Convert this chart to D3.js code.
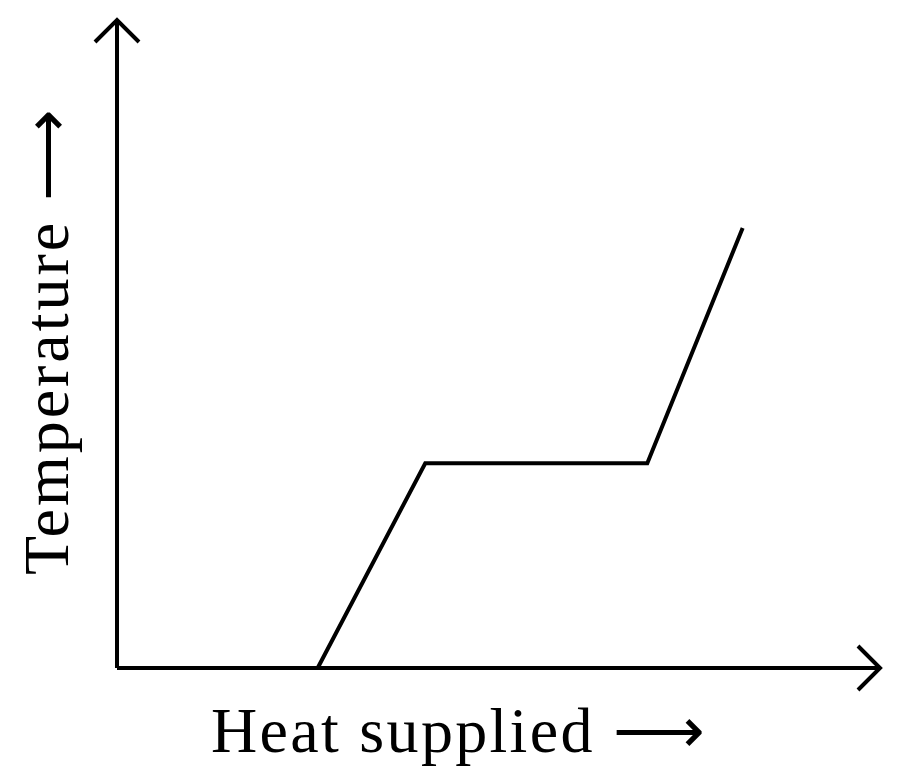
<!DOCTYPE html>
<html><head><meta charset="utf-8">
<script src="https://cdn.jsdelivr.net/npm/d3@7"></script>
<style>body{margin:0;background:#fff}</style>
</head><body>
<script>
// heat supplied vs temperature (arbitrary units)
var heat = [26.3, 40.4, 69.5, 82.0]
var temp = [0, 31.6, 31.6, 67.9]
var xLabel = "Heat supplied \u27F6"
var yLabel = "Temperature \u27F6"

var W = 900, H = 784
var svg = d3.select("body").append("svg").attr("width", W).attr("height", H)

var x = d3.scaleLinear().domain([0, 100]).range([117, 880])
var y = d3.scaleLinear().domain([0, 100]).range([668, 20])

var stroke = {stroke: "#000", "stroke-width": 4, fill: "none"}
function st(sel) { for (var k in stroke) sel.attr(k, stroke[k]); return sel }

// axes
st(svg.append("line").attr("x1", x(0)).attr("y1", y(0)).attr("x2", x(100) - 2).attr("y2", y(0)))
st(svg.append("line").attr("x1", x(0)).attr("y1", y(0)).attr("x2", x(0)).attr("y2", y(100) + 2))
st(svg.append("path").attr("d", "M" + (x(100) - 22) + "," + (y(0) - 22) + "L" + x(100) + "," + y(0) + "L" + (x(100) - 22) + "," + (y(0) + 22)))
st(svg.append("path").attr("d", "M" + (x(0) - 22) + "," + (y(100) + 22) + "L" + x(0) + "," + y(100) + "L" + (x(0) + 22) + "," + (y(100) + 22)))

var line = d3.line().x(function(d) { return x(d[0]) }).y(function(d) { return y(d[1]) })
st(svg.append("path").attr("d", line(d3.zip(heat, temp))).attr("stroke-linejoin", "miter"))

svg.append("text").attr("x", 211).attr("y", 752)
  .attr("font-family", "Liberation Serif").attr("font-size", 64).attr("textLength", 494).text(xLabel)
svg.append("text").attr("transform", "translate(68,342) rotate(-90)").attr("text-anchor", "middle")
  .attr("font-family", "Liberation Serif").attr("font-size", 64).attr("textLength", 466).text(yLabel)
</script>
</body></html>
